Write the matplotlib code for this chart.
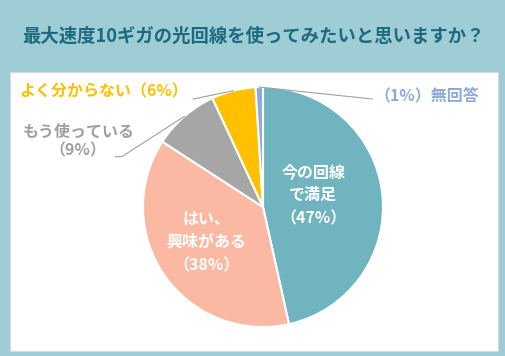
import numpy as np
import matplotlib
matplotlib.use("Agg")
import matplotlib.pyplot as plt
from matplotlib.patches import Rectangle

plt.rcParams['font.family'] = ['Noto Sans CJK JP', 'DejaVu Sans']

# data (clockwise from the top)
labels = ['今の回線\nで満足\n（47%）', 'はい、\n興味がある\n（38%）',
          'もう使っている\n（9%）', 'よく分からない（6%）', '（1%）無回答']
values = [47, 38, 9, 6, 1]
colors = ['#6fb4bf', '#fbb9a4', '#a6a6a6', '#ffc000', '#8eaadb']
title = '最大速度10ギガの光回線を使ってみたいと思いますか？'

W, H = 506, 356
fig = plt.figure(figsize=(W / 100, H / 100), dpi=100)
fig.patch.set_facecolor('#9ecdd6')

# white panel behind the pie
fig.patches.append(Rectangle((10 / W, 1 - 351 / H), 488 / W, 279 / H,
                             transform=fig.transFigure, facecolor='white',
                             edgecolor='#d9d9d9', linewidth=0.8, zorder=-1))

fig.text(0.5, 1 - 36 / H, title, ha='center', va='center',
         fontsize=13.2, fontweight='bold', color='#1d6a7e')

# pie axes: center (263, 207), radius 120 px
cx, cy, r = 263, 207, 120
ax = fig.add_axes([(cx - r) / W, 1 - (cy + r) / H, 2 * r / W, 2 * r / H])

wedges, _ = ax.pie(values, colors=colors, startangle=90, counterclock=False,
                   radius=1, wedgeprops=dict(edgecolor='white', linewidth=1.5))
ax.set_xlim(-1, 1)
ax.set_ylim(-1, 1)
ax.set_aspect('equal')
ax.axis('off')

def mid(w):
    a = np.deg2rad((w.theta1 + w.theta2) / 2)
    return np.cos(a), np.sin(a)

lc = '#a0a0a0'
fs = 11.5

# inside labels
ax.text(0.42, 0.10, labels[0], ha='center', va='center', color='white',
        fontsize=fs, fontweight='bold', linespacing=1.55)
ax.text(-0.47, -0.29, labels[1], ha='center', va='center', color='white',
        fontsize=fs, fontweight='bold', linespacing=1.55)

# outside labels with leader lines
x, y = mid(wedges[2])
ax.text(-1.54, 0.55, labels[2], ha='center', va='center', color=lc,
        fontsize=fs, fontweight='bold', multialignment='center',
        linespacing=1.2)
ax.plot([x, -1.175, -1.23], [y, 0.42, 0.42], color=lc, lw=0.8,
        clip_on=False)

x, y = mid(wedges[3])
ax.text(-0.625, 0.96, labels[3], ha='right', va='center',
        color='#ffc000', fontsize=fs, fontweight='bold')
ax.plot([x, -0.58], [y, 0.90], color=lc, lw=0.8, clip_on=False)

x, y = mid(wedges[4])
ax.text(0.925, 0.93, labels[4], ha='left', va='center',
        color='#8eaadb', fontsize=fs, fontweight='bold')
ax.plot([x, 0.91], [y, 0.90], color=lc, lw=0.8, clip_on=False)

fig.savefig('out.png', dpi=100, facecolor=fig.get_facecolor())
